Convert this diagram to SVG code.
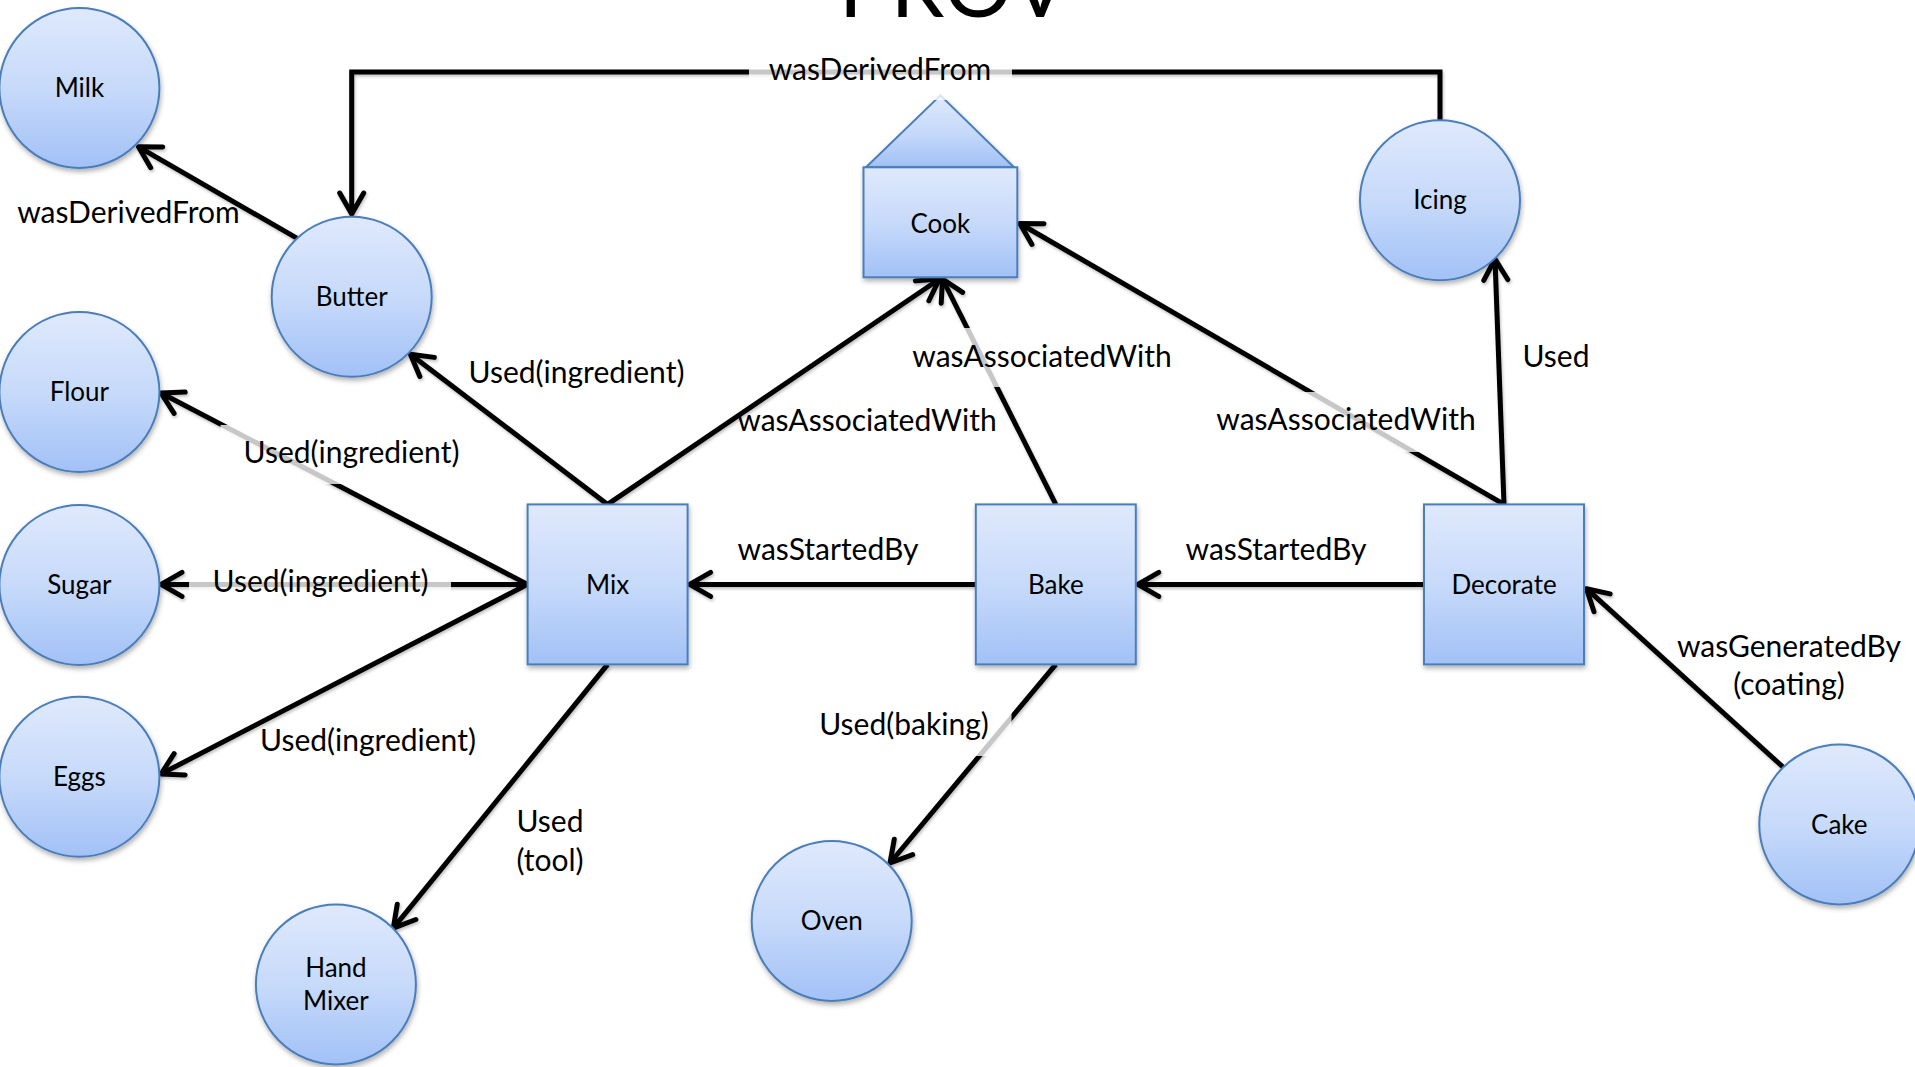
<svg xmlns="http://www.w3.org/2000/svg" width="1915" height="1067" viewBox="0 0 1915 1067">
<style>
  .node { fill: url(#g); stroke: #4a7ebb; stroke-width: 2; filter: url(#sh); }
  .nl { font-family: Lato, "Open Sans", sans-serif; font-size: 26px; fill: #000; text-anchor: middle; }
  .el { font-family: Lato, "Open Sans", sans-serif; font-size: 30px; fill: #000; text-anchor: middle; }
  .c { fill: none; stroke: #000; stroke-width: 5; marker-end: url(#arr); }
  .box { fill: #fff; fill-opacity: 0.78; }
  .title { font-family: Lato, "Open Sans", sans-serif; font-size: 86px; fill: #000; text-anchor: middle; }
</style>
<defs>
  <linearGradient id="g" x1="0" y1="0" x2="0" y2="1">
    <stop offset="0" stop-color="#dfe9fc"/>
    <stop offset="0.5" stop-color="#c7dafa"/>
    <stop offset="1" stop-color="#a2c1f6"/>
  </linearGradient>
  <filter id="sh" x="-20%" y="-20%" width="140%" height="140%">
    <feDropShadow dx="1" dy="3" stdDeviation="2.5" flood-color="#000" flood-opacity="0.3"/>
  </filter>
  <filter id="lsh" x="-10%" y="-10%" width="120%" height="120%">
    <feDropShadow dx="1" dy="2" stdDeviation="1.5" flood-color="#000" flood-opacity="0.25"/>
  </filter>
  <marker id="arr" viewBox="-26 -15 32 30" refX="0" refY="0" markerWidth="32" markerHeight="30" markerUnits="userSpaceOnUse" orient="auto">
    <path d="M-21,-12 L0,0 L-21,12" fill="none" stroke="#000" stroke-width="5" stroke-linecap="round" stroke-linejoin="round"/>
  </marker>
</defs>
<rect width="1915" height="1067" fill="#fff"/>
<text class="title" x="954" y="17">PROV</text>

<g id="connectors" filter="url(#lsh)">
  <path class="c" d="M296.8,238.2 L138.5,146.8"/>
  <path class="c" d="M1440,120 V72 H351.7 V214"/>
  <path class="c" d="M607.6,504.4 L410.4,354.2"/>
  <path class="c" d="M527.6,584.4 L161,393"/>
  <path class="c" d="M527.6,584.4 L161,584.4"/>
  <path class="c" d="M527.6,584.4 L161,774"/>
  <path class="c" d="M607.6,664.4 L393.3,928.2"/>
  <path class="c" d="M607.6,504.4 L939.5,279"/>
  <path class="c" d="M1055.8,504.4 L942.5,279"/>
  <path class="c" d="M1504,504.4 L1019.8,223.5"/>
  <path class="c" d="M1504,504.4 L1495,259"/>
  <path class="c" d="M975.8,584.4 L689.6,584.4"/>
  <path class="c" d="M1424,584.4 L1137.8,584.4"/>
  <path class="c" d="M1055.8,664.4 L890,863"/>
  <path class="c" d="M1783,767 L1586.5,588.7"/>
</g>

<g id="node-milk"><circle class="node" cx="79.4" cy="87.9" r="80"/><text class="nl" x="79.4" y="97">Milk</text></g>
<g id="node-butter"><circle class="node" cx="351.7" cy="296.8" r="80"/><text class="nl" x="351.7" y="306">Butter</text></g>
<g id="node-flour"><circle class="node" cx="79.4" cy="392" r="80"/><text class="nl" x="79.4" y="401">Flour</text></g>
<g id="node-sugar"><circle class="node" cx="79.4" cy="585" r="80"/><text class="nl" x="79.4" y="594">Sugar</text></g>
<g id="node-eggs"><circle class="node" cx="79.4" cy="776.8" r="80"/><text class="nl" x="79.4" y="786">Eggs</text></g>
<g id="node-handmixer"><circle class="node" cx="335.9" cy="984.4" r="80"/><text class="nl" x="335.9" y="977">Hand</text><text class="nl" x="335.9" y="1010">Mixer</text></g>
<g id="node-oven"><circle class="node" cx="831.7" cy="920.9" r="80"/><text class="nl" x="831.7" y="930">Oven</text></g>
<g id="node-cake"><circle class="node" cx="1839.3" cy="824.4" r="80"/><text class="nl" x="1839.3" y="834">Cake</text></g>
<g id="node-icing"><circle class="node" cx="1440" cy="200.3" r="80"/><text class="nl" x="1440" y="209">Icing</text></g>
<g id="node-cook">
  <path class="node" d="M866,167.3 L940.4,95.3 L1014,167.3 Z"/>
  <rect class="node" x="863.5" y="167.3" width="153.8" height="110"/>
  <text class="nl" x="940.4" y="233">Cook</text>
</g>
<g id="node-mix"><rect class="node" x="527.6" y="504.4" width="160" height="160"/><text class="nl" x="607.6" y="594">Mix</text></g>
<g id="node-bake"><rect class="node" x="975.8" y="504.4" width="160" height="160"/><text class="nl" x="1055.8" y="594">Bake</text></g>
<g id="node-decorate"><rect class="node" x="1424" y="504.4" width="160" height="160"/><text class="nl" x="1504" y="594">Decorate</text></g>

<g id="label-boxes">
  <rect class="box" x="749" y="41" width="263" height="59"/>
  <rect class="box" x="220.5" y="425" width="262" height="59"/>
  <rect class="box" x="189" y="553" width="262" height="59"/>
  <rect class="box" x="894" y="328" width="296" height="59"/>
  <rect class="box" x="1198" y="392" width="296" height="60"/>
  <rect class="box" x="796.5" y="697" width="215" height="59"/>
</g>

<g id="edge-labels">
  <text class="el" x="880" y="80">wasDerivedFrom</text>
  <text class="el" x="128.5" y="222.7">wasDerivedFrom</text>
  <text class="el" x="576.5" y="383">Used(ingredient)</text>
  <text class="el" x="351.5" y="463">Used(ingredient)</text>
  <text class="el" x="320.5" y="592">Used(ingredient)</text>
  <text class="el" x="368" y="751">Used(ingredient)</text>
  <text class="el" x="550" y="831.5">Used</text>
  <text class="el" x="550" y="870.5">(tool)</text>
  <text class="el" x="867" y="431">wasAssociatedWith</text>
  <text class="el" x="1042" y="366.7">wasAssociatedWith</text>
  <text class="el" x="1346" y="430">wasAssociatedWith</text>
  <text class="el" x="1556" y="367">Used</text>
  <text class="el" x="828" y="560">wasStartedBy</text>
  <text class="el" x="1276" y="560">wasStartedBy</text>
  <text class="el" x="904" y="735">Used(baking)</text>
  <text class="el" x="1789" y="657">wasGeneratedBy</text>
  <text class="el" x="1789" y="694.6">(coating)</text>
</g>
</svg>
